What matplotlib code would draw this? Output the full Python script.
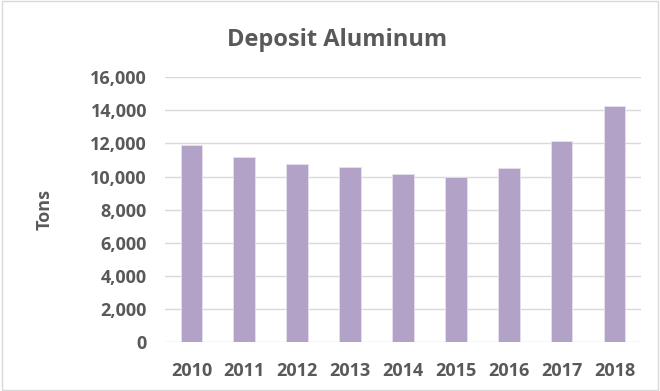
import matplotlib.pyplot as plt
from matplotlib.ticker import FuncFormatter
from matplotlib.patches import Rectangle

years = ["2010", "2011", "2012", "2013", "2014", "2015", "2016", "2017", "2018"]
tons = [11880, 11150, 10750, 10570, 10170, 10000, 10510, 12150, 14260]
yticks = [0, 2000, 4000, 6000, 8000, 10000, 12000, 14000, 16000]

text_color = "#595959"
plt.rcParams["font.family"] = ["Open Sans", "DejaVu Sans"]

fig = plt.figure(figsize=(6.6, 3.91), dpi=100)
fig.patches.append(Rectangle((0.003, 0.003), 0.994, 0.994, transform=fig.transFigure,
                             fill=False, edgecolor="#D9D9D9", linewidth=1))
ax = fig.add_axes([0.25, 0.1245, 0.721, 0.6785])

x = range(len(years))
ax.bar(x, tons, width=0.41, color="#B3A2C7", edgecolor="#E6E0EE", linewidth=0.6, zorder=3)

ax.set_ylim(0, 16000)
ax.set_xlim(-0.5, len(years) - 0.5)
ax.set_yticks(yticks)
ax.yaxis.set_major_formatter(FuncFormatter(lambda v, p: f"{int(v):,}"))
ax.set_xticks(list(x))
ax.set_xticklabels(years)
ax.grid(axis="y", color="#D9D9D9", linewidth=1, zorder=0)
for s in ax.spines.values():
    s.set_visible(False)
ax.tick_params(length=0, colors=text_color, labelsize=13)
ax.tick_params(axis="x", pad=14)
ax.tick_params(axis="y", pad=13)
for lab in ax.get_xticklabels() + ax.get_yticklabels():
    lab.set_fontweight("bold")

ax.set_ylabel("Tons", color=text_color, fontsize=13, fontweight="bold", labelpad=26)
fig.text(0.51, 0.898, "Deposit Aluminum", ha="center", va="center",
         fontsize=17, fontweight="bold", color=text_color)

fig.savefig("out.png", dpi=100)
